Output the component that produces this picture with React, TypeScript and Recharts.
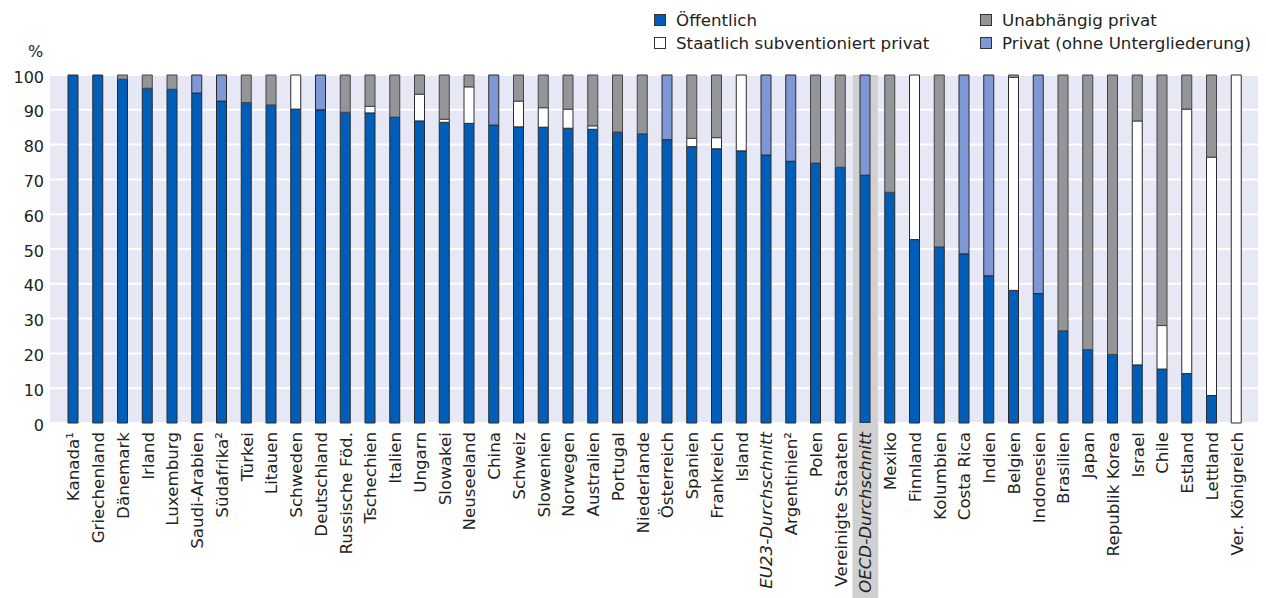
import React from 'react';
import { BarChart, Bar, XAxis, YAxis, CartesianGrid, ReferenceArea } from 'recharts';

const categories = [
  'Kanada¹', 'Griechenland', 'Dänemark', 'Irland', 'Luxemburg', 'Saudi-Arabien', 'Südafrika²', 'Türkei',
  'Litauen', 'Schweden', 'Deutschland', 'Russische Föd.', 'Tschechien', 'Italien', 'Ungarn', 'Slowakei',
  'Neuseeland', 'China', 'Schweiz', 'Slowenien', 'Norwegen', 'Australien', 'Portugal', 'Niederlande',
  'Österreich', 'Spanien', 'Frankreich', 'Island', 'EU23-Durchschnitt', 'Argentinien²', 'Polen',
  'Vereinigte Staaten', 'OECD-Durchschnitt', 'Mexiko', 'Finnland', 'Kolumbien', 'Costa Rica', 'Indien',
  'Belgien', 'Indonesien', 'Brasilien', 'Japan', 'Republik Korea', 'Israel', 'Chile', 'Estland', 'Lettland',
  'Ver. Königreich',
];

const publicShare = [
  100, 100, 98.8, 96.2, 95.9, 94.8, 92.5, 92.1, 91.4, 90.2, 90.0, 89.3, 89.1, 87.9, 86.8, 86.4,
  86.1, 85.6, 85.1, 85.0, 84.7, 84.4, 83.6, 83.1, 81.4, 79.4, 78.8, 78.2, 77.0, 75.2, 74.7, 73.5,
  71.2, 66.3, 52.7, 50.6, 48.6, 42.3, 38.1, 37.2, 26.5, 21.1, 19.7, 16.7, 15.5, 14.2, 7.9, 0,
];
const subsidisedPrivate = [
  0, 0, 0, 0, 0, 0, 0, 0, 0, 9.8, 0, 0, 1.9, 0, 7.7, 0.9,
  10.5, 0, 7.4, 5.6, 5.5, 1.0, 0, 0, 0, 2.4, 3.2, 21.8, 0, 0, 0, 0,
  0, 0, 47.3, 0, 0, 0, 61.2, 0, 0, 0, 0, 70.1, 12.5, 76.0, 68.5, 100,
];
const independentPrivate = [
  0, 0, 1.2, 3.8, 4.1, 0, 0, 7.9, 8.6, 0, 0, 10.7, 9.0, 12.1, 5.5, 12.7,
  3.4, 0, 7.5, 9.4, 9.8, 14.6, 16.4, 16.9, 0, 18.2, 18.0, 0, 0, 0, 25.3, 26.5,
  0, 33.7, 0, 49.4, 0, 0, 0.7, 0, 73.5, 78.9, 80.3, 13.2, 72.0, 9.8, 23.6, 0,
];
const privateUndifferentiated = [
  0, 0, 0, 0, 0, 5.2, 7.5, 0, 0, 0, 10.0, 0, 0, 0, 0, 0,
  0, 14.4, 0, 0, 0, 0, 0, 0, 18.6, 0, 0, 0, 23.0, 24.8, 0, 0,
  28.8, 0, 0, 0, 51.4, 57.7, 0, 62.8, 0, 0, 0, 0, 0, 0, 0, 0,
];
const yTicks = [0, 10, 20, 30, 40, 50, 60, 70, 80, 90, 100];
const italicCategories = ['EU23-Durchschnitt', 'OECD-Durchschnitt'];
const highlightCategory = 'OECD-Durchschnitt';

const seriesNames = {
  oeff: 'Öffentlich',
  staat: 'Staatlich subventioniert privat',
  unab: 'Unabhängig privat',
  priv: 'Privat (ohne Untergliederung)',
};

const COLORS = {
  oeff: '#005EB8',
  staat: '#FFFFFF',
  unab: '#939598',
  priv: '#7F97D5',
};

const data = categories.map((name, i) => ({
  name,
  oeff: publicShare[i],
  staat: subsidisedPrivate[i],
  unab: independentPrivate[i],
  priv: privateUndifferentiated[i],
}));

const FONT = '"DejaVu Sans", sans-serif';

const XTick = (props: any) => {
  const { x, y, payload } = props;
  const label = payload.value as string;
  const italic = italicCategories.includes(label);
  const highlight = label === highlightCategory;
  return (
    <g>
      {highlight && <rect x={x - 12.9} y={y - 9} width={25.8} height={598 - y + 9} fill="#D0D0D0" />}
      <text
        transform={`translate(${x},${y}) rotate(-90)`}
        textAnchor="end"
        dominantBaseline="central"
        fontFamily={FONT}
        fontSize={16.7}
        fontStyle={italic ? 'italic' : 'normal'}
        fill="#222"
      >
        {label}
      </text>
    </g>
  );
};

const LegendItem = ({ color, label, x, y }: { color: string; label: string; x: number; y: number }) => (
  <div style={{ position: 'absolute', left: x, top: y - 10, height: 20, display: 'flex', alignItems: 'center', whiteSpace: 'nowrap' }}>
    <div style={{ width: 10, height: 10, background: color, border: '1px solid #333', marginRight: 10 }} />
    <span style={{ fontFamily: FONT, fontSize: 16.7, color: '#222', lineHeight: '20px' }}>{label}</span>
  </div>
);

export default function App() {
  return (
    <div style={{ position: 'absolute', left: 0, top: 0, width: 1266, height: 598, background: '#fff' }}>
      <BarChart
        width={1266}
        height={598}
        data={data}
        margin={{ top: 75, right: 8, bottom: 0, left: 0 }}
        barCategoryGap={0}
      >
        <CartesianGrid vertical={false} stroke="#FFFFFF" strokeWidth={2} fill="#E6E8F5" />
        <ReferenceArea x1={highlightCategory} x2={highlightCategory} y1={0} y2={100} fill="#D0D0D0" fillOpacity={1} stroke="none" />
        <XAxis
          dataKey="name"
          interval={0}
          height={175}
          tickSize={0}
          tickMargin={9}
          axisLine={false}
          tickLine={false}
          padding={{ left: 11, right: 9 }}
          tick={<XTick />}
        />
        <YAxis
          domain={[0, 100]}
          ticks={yTicks}
          width={50}
          tickSize={0}
          tickMargin={6}
          axisLine={false}
          tickLine={false}
          tick={{ fontFamily: FONT, fontSize: 16, fill: '#222', dy: 2 }}
        />
        <Bar dataKey="oeff" name={seriesNames.oeff} stackId="a" fill={COLORS.oeff} stroke="#2a2a2a" strokeWidth={1} barSize={10} isAnimationActive={false} />
        <Bar dataKey="staat" name={seriesNames.staat} stackId="a" fill={COLORS.staat} stroke="#2a2a2a" strokeWidth={1} barSize={10} isAnimationActive={false} />
        <Bar dataKey="unab" name={seriesNames.unab} stackId="a" fill={COLORS.unab} stroke="#444" strokeWidth={1} barSize={10} isAnimationActive={false} />
        <Bar dataKey="priv" name={seriesNames.priv} stackId="a" fill={COLORS.priv} stroke="#2a2a2a" strokeWidth={1} barSize={10} isAnimationActive={false} />
      </BarChart>
      <div style={{ position: 'absolute', left: 28, top: 42, fontFamily: FONT, fontSize: 16, color: '#222' }}>%</div>
      <LegendItem color={COLORS.oeff} label={seriesNames.oeff} x={654} y={20} />
      <LegendItem color={COLORS.staat} label={seriesNames.staat} x={654} y={43} />
      <LegendItem color={COLORS.unab} label={seriesNames.unab} x={980} y={20} />
      <LegendItem color={COLORS.priv} label={seriesNames.priv} x={980} y={43} />
    </div>
  );
}
